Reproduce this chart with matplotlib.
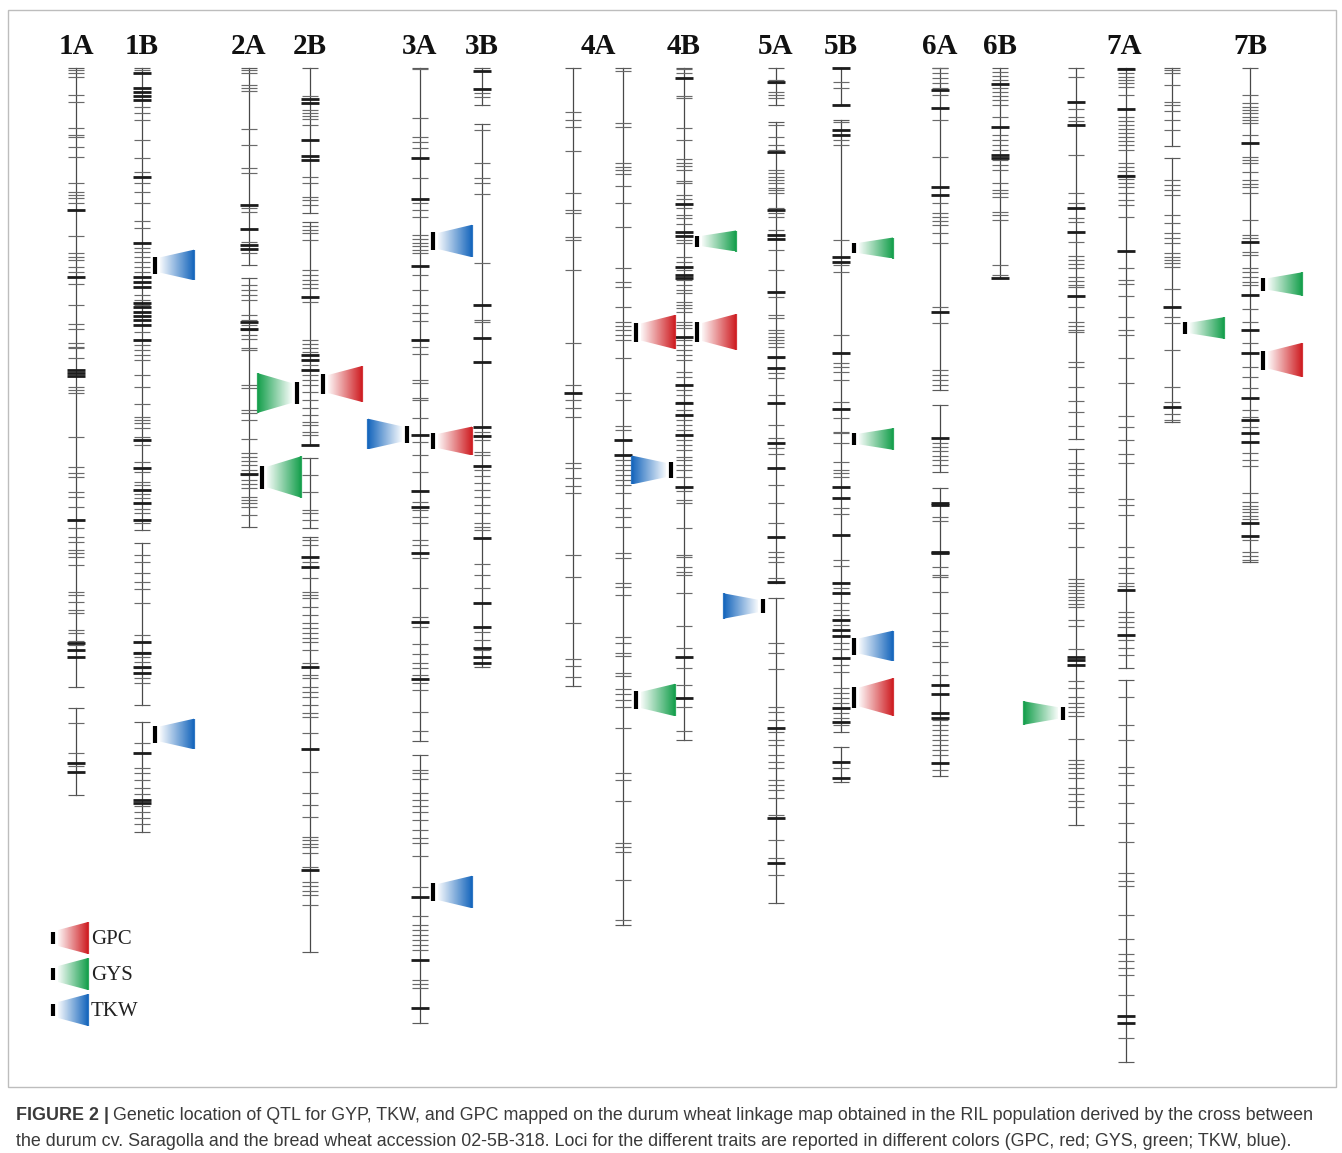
import matplotlib
matplotlib.use("Agg")
import matplotlib.pyplot as plt
import numpy as np
from matplotlib.colors import LinearSegmentedColormap
from matplotlib.patches import Polygon, Rectangle

# ---- linkage map: marker positions along each group (map units from the top)
markers_1A = [2, 5, 9, 27, 34, 60, 67, 69, 79, 89, 115, 124, 127, 130, 135, 168, 185, 189, 192, 199, 204,
              216, 237, 256, 261, 275, 279, 280, 290, 319, 322, 325, 369, 399, 405, 409, 424, 429, 439, 460,
              469, 474, 482, 485, 489, 497, 524, 527, 534, 542, 545, 562, 565, 573, 577, 582, 589, 655, 685, 695, 698]
bold_1A = [142, 209, 302, 305, 308, 452, 575, 582, 589, 695, 704]
segments_1A = [(0, 619), (640, 727)]

markers_1B = [2, 39, 45, 52, 72, 90, 104, 109, 115, 124, 135, 153, 160, 180, 184, 189, 194, 199, 204, 214, 227,
              232, 237, 264, 272, 277, 282, 287, 292, 307, 319, 336, 349, 352, 355, 360, 369, 372, 377, 394, 400,
              404, 414, 417, 422, 426, 430, 435, 441, 445, 452, 455, 487, 494, 505, 514, 521, 535, 567, 574, 584,
              589, 594, 600, 605, 610, 615, 675, 685, 700, 705, 712, 720, 726, 738, 744, 750, 756]
bold_1B = [5, 20, 24, 28, 32, 109, 175, 209, 214, 219, 235, 239, 244, 248, 252, 257, 272, 372, 400, 422, 435,
           452, 574, 585, 599, 605, 685, 732, 735]
segments_1B = [(0, 462), (475, 637), (654, 764)]

markers_2A = [2, 5, 17, 20, 23, 61, 77, 100, 105, 140, 144, 174, 185, 217, 222, 227, 232, 247, 252, 257, 262,
              267, 271, 280, 282, 317, 320, 342, 345, 352, 371, 385, 389, 393, 397, 402, 407, 412, 416, 420, 429,
              432, 435, 439, 447]
bold_2A = [137, 161, 177, 181, 254, 261, 406]
segments_2A = [(0, 197), (210, 459)]

markers_2B = [28, 42, 45, 48, 51, 57, 109, 115, 129, 132, 137, 158, 162, 165, 172, 202, 207, 212, 216, 220, 234,
              272, 276, 280, 284, 297, 307, 312, 317, 324, 332, 340, 347, 354, 357, 364, 367, 407, 424, 442, 445,
              452, 472, 477, 494, 510, 524, 527, 530, 539, 547, 555, 560, 565, 570, 574, 582, 595, 607, 610, 619,
              624, 629, 637, 645, 649, 665, 704, 725, 737, 749, 769, 772, 776, 779, 785, 799, 814, 818, 823, 827, 837]
bold_2B = [31, 35, 72, 88, 92, 229, 287, 292, 302, 377, 489, 499, 599, 681, 802]
segments_2B = [(0, 145), (154, 377), (390, 460), (469, 884)]

markers_3A = [1, 50, 69, 74, 80, 110, 135, 142, 149, 167, 171, 175, 178, 182, 185, 207, 222, 237, 245, 253, 279,
              286, 312, 315, 330, 332, 350, 374, 387, 404, 434, 442, 449, 455, 472, 477, 490, 520, 549, 554, 559,
              576, 586, 595, 600, 607, 615, 622, 644, 663, 702, 705, 711, 725, 732, 738, 744, 752, 762, 770, 775,
              788, 819, 848, 857, 862, 867, 872, 877, 882, 912, 916, 920]
bold_3A = [90, 131, 198, 272, 367, 423, 439, 485, 554, 611, 829, 892, 940]
segments_3A = [(0, 673), (687, 955)]

markers_3B = [25, 29, 62, 95, 110, 115, 126, 195, 252, 254, 364, 372, 384, 387, 402, 408, 415, 422, 429, 437,
              445, 455, 459, 462, 496, 507, 520, 564, 572, 582]
bold_3B = [3, 21, 237, 270, 294, 359, 368, 398, 470, 535, 559, 580, 589, 595]
segments_3B = [(0, 37), (56, 599)]

markers_4A1 = [44, 52, 59, 83, 125, 142, 145, 169, 172, 202, 275, 317, 332, 340, 349, 395, 400, 410, 418, 425,
               487, 509, 555, 591, 598, 609]
bold_4A1 = [325]
segments_4A1 = [(0, 618)]

markers_4A2 = [3, 55, 59, 95, 99, 102, 106, 118, 135, 159, 200, 214, 219, 239, 254, 258, 262, 267, 272, 290, 325,
               332, 358, 362, 392, 397, 402, 407, 412, 417, 425, 440, 449, 459, 485, 490, 515, 519, 527, 569, 575,
               585, 588, 605, 608, 621, 626, 632, 639, 660, 705, 712, 733, 775, 779, 784, 812, 852]
bold_4A2 = [372, 387]
segments_4A2 = [(0, 857)]

markers_4B = [1, 5, 28, 30, 60, 72, 91, 95, 98, 102, 113, 115, 127, 131, 140, 147, 150, 156, 172, 175, 189, 194,
              202, 212, 217, 222, 225, 234, 237, 240, 244, 254, 257, 260, 272, 277, 282, 287, 292, 304, 309, 317,
              322, 327, 334, 342, 347, 352, 357, 362, 372, 377, 382, 389, 392, 397, 402, 409, 423, 432, 435, 460,
              487, 489, 499, 504, 507, 525, 558, 580, 600, 617, 639, 663]
bold_4B = [10, 136, 164, 168, 199, 207, 210, 269, 317, 335, 347, 367, 419, 589, 630]
segments_4B = [(0, 672)]

markers_5A = [12, 15, 24, 27, 30, 57, 69, 77, 82, 102, 105, 109, 112, 115, 120, 122, 125, 140, 145, 149, 162, 182,
              202, 229, 247, 250, 262, 265, 269, 272, 275, 279, 290, 305, 310, 327, 357, 370, 380, 386, 417, 435,
              455, 484, 489, 494, 510, 575, 585, 601, 639, 644, 652, 664, 672, 677, 687, 694, 700, 712, 717, 722,
              730, 747, 772, 790, 807]
bold_5A = [14, 84, 142, 167, 171, 224, 289, 300, 335, 375, 400, 469, 514, 660, 750, 795]
segments_5A = [(0, 37), (54, 515), (530, 835)]

markers_5B = [14, 20, 54, 72, 77, 172, 197, 204, 267, 295, 299, 304, 312, 334, 350, 364, 365, 375, 394, 402, 405,
              409, 440, 446, 492, 498, 520, 535, 542, 547, 557, 575, 581, 597, 604, 620, 625, 630, 635, 645, 650,
              657, 700]
bold_5B = [0, 37, 62, 67, 189, 194, 285, 341, 419, 430, 467, 515, 525, 552, 562, 568, 590, 640, 654, 694, 710]
segments_5B = [(0, 37), (52, 664), (679, 714)]

markers_6A = [0, 5, 10, 15, 20, 27, 52, 89, 135, 145, 149, 153, 157, 165, 175, 239, 255, 302, 307, 312, 317, 375,
              379, 383, 388, 392, 397, 449, 453, 499, 507, 509, 524, 545, 563, 574, 578, 594, 607, 652, 657, 662,
              667, 672, 677, 682, 687, 702]
bold_6A = [22, 40, 119, 127, 244, 370, 435, 437, 484, 485, 617, 626, 645, 650, 695]
segments_6A = [(0, 322), (337, 404), (420, 708)]

markers_6B = [4, 8, 12, 20, 24, 28, 32, 37, 49, 67, 72, 77, 82, 92, 97, 102, 115, 122, 125, 129, 144, 147, 152,
              197, 207]
bold_6B = [16, 59, 87, 90, 210]
segments_6B = [(0, 210)]

markers_7A1 = [9, 41, 49, 53, 87, 125, 135, 150, 154, 174, 188, 192, 196, 200, 209, 213, 217, 219, 239, 254, 258,
               262, 264, 294, 299, 319, 333, 344, 358, 395, 401, 407, 420, 424, 439, 455, 460, 479, 511, 515, 518,
               522, 525, 529, 532, 536, 539, 552, 558, 581, 613, 620, 629, 635, 639, 644, 648, 671, 692, 696, 700,
               705, 710, 720, 726, 733, 739]
bold_7A1 = [34, 57, 140, 164, 228, 589, 592, 597]
segments_7A1 = [(0, 371), (381, 757)]

markers_7A2 = [5, 9, 12, 15, 19, 27, 49, 53, 57, 61, 65, 69, 73, 77, 82, 95, 99, 103, 107, 111, 115, 119, 125, 132,
               137, 149, 200, 212, 216, 228, 249, 262, 267, 290, 315, 348, 359, 372, 386, 395, 431, 437, 447, 479,
               489, 500, 505, 515, 518, 544, 549, 554, 559, 572, 580, 587, 629, 657, 672, 699, 705, 717, 735, 755,
               774, 805, 813, 818, 847, 871, 886, 893, 900, 907, 927, 970]
bold_7A2 = [1, 41, 108, 183, 522, 567, 948, 955]
segments_7A2 = [(0, 600), (612, 994)]

markers_7A3 = [2, 5, 17, 34, 37, 43, 52, 62, 112, 117, 122, 127, 147, 155, 165, 170, 175, 185, 189, 192, 195, 199,
               221, 249, 255, 282, 319, 334, 346, 352]
bold_7A3 = [239, 339]
segments_7A3 = [(0, 78), (90, 354)]

markers_7B = [27, 35, 39, 42, 45, 49, 52, 55, 67, 89, 92, 95, 104, 112, 116, 119, 125, 152, 167, 170, 184, 187,
              200, 204, 209, 214, 217, 241, 254, 275, 299, 309, 320, 342, 349, 359, 385, 392, 398, 425, 434, 438,
              441, 444, 448, 451, 472, 484, 488, 492]
bold_7B = [75, 174, 227, 262, 285, 330, 352, 365, 374, 455, 468]
segments_7B = [(0, 494)]

# chromosome labels and the linkage groups drawn under each
chromosomes = ["1A", "1B", "2A", "2B", "3A", "3B", "4A", "4B", "5A", "5B", "6A", "6B", "7A", "7B"]
chromosome_groups = [["1A"], ["1B"], ["2A"], ["2B"], ["3A"], ["3B"], ["4A.1", "4A.2"], ["4B"], ["5A"], ["5B"],
                     ["6A"], ["6B"], ["7A.1", "7A.2", "7A.3"], ["7B"]]

# ---- QTL: linkage group, peak position, confidence interval, trait, side of the bar
qtl_group = ["1B", "1B", "2A", "2B", "2B", "3A", "3A", "3A", "3A", "4A.2", "4A.2", "4B", "4B", "4B",
             "5A", "5B", "5B", "5B", "5B", "7A.1", "7A.3", "7B", "7B"]
qtl_pos = [197, 666, 409, 325, 316, 173, 366, 373, 824, 264, 632, 264, 173, 402,
           538, 180, 371, 578, 629, 645, 260, 216, 292]
qtl_ci = [17, 17, 23, 22, 20, 18, 17, 16, 18, 19, 18, 20, 11, 16,
          14, 10, 12, 17, 21, 13, 12, 13, 19]
qtl_trait = ["TKW", "TKW", "GYS", "GYS", "GPC", "TKW", "TKW", "GPC", "TKW", "GPC", "GYS", "GPC", "GYS", "TKW",
             "TKW", "GYS", "GYS", "TKW", "GPC", "GYS", "GYS", "GYS", "GPC"]
qtl_side = ["right", "right", "right", "left", "right", "right", "left", "right", "right", "right", "right",
            "right", "right", "left", "left", "right", "right", "right", "right", "left", "right", "right", "right"]

traits = ["GPC", "GYS", "TKW"]
trait_colors = {"GPC": "#cf1f24", "GYS": "#17a04e", "TKW": "#1767bd"}

CAPTION_1 = ("Genetic location of QTL for GYP, TKW, and GPC mapped on the durum wheat linkage map obtained "
             "in the RIL population derived by the cross between")
CAPTION_2 = ("the durum cv. Saragolla and the bread wheat accession 02-5B-318. Loci for the different traits "
             "are reported in different colors (GPC, red; GYS, green; TKW, blue).")

# horizontal placement of the linkage groups
group_x = {"1A": 76, "1B": 142, "2A": 249, "2B": 310, "3A": 420, "3B": 482, "4A.1": 573, "4A.2": 623,
           "4B": 684, "5A": 776, "5B": 841, "6A": 940, "6B": 1000, "7A.1": 1076, "7A.2": 1126,
           "7A.3": 1172, "7B": 1250}

group_data = {
    "1A": (markers_1A, bold_1A, segments_1A), "1B": (markers_1B, bold_1B, segments_1B),
    "2A": (markers_2A, bold_2A, segments_2A), "2B": (markers_2B, bold_2B, segments_2B),
    "3A": (markers_3A, bold_3A, segments_3A), "3B": (markers_3B, bold_3B, segments_3B),
    "4A.1": (markers_4A1, bold_4A1, segments_4A1), "4A.2": (markers_4A2, bold_4A2, segments_4A2),
    "4B": (markers_4B, bold_4B, segments_4B), "5A": (markers_5A, bold_5A, segments_5A),
    "5B": (markers_5B, bold_5B, segments_5B), "6A": (markers_6A, bold_6A, segments_6A),
    "6B": (markers_6B, bold_6B, segments_6B), "7A.1": (markers_7A1, bold_7A1, segments_7A1),
    "7A.2": (markers_7A2, bold_7A2, segments_7A2), "7A.3": (markers_7A3, bold_7A3, segments_7A3),
    "7B": (markers_7B, bold_7B, segments_7B),
}

TICK_HALF = 8
MAP_TOP = 68


def draw_qtl(ax, x_bar, y, ci, color, direction, wide=None, length=34):
    """Black interval bar plus a white-to-colour trapezoid opening away from the bar."""
    if wide is None:
        wide = max(21, 1.8 * ci)
    narrow = wide * 0.5
    x0 = x_bar + direction * 5
    x1 = x0 + direction * length
    pts = [(x0, y - narrow / 2), (x1, y - wide / 2), (x1, y + wide / 2), (x0, y + narrow / 2)]
    poly = Polygon(pts, closed=True, facecolor="none", edgecolor="none", zorder=3)
    ax.add_patch(poly)
    grad = np.linspace(0.04, 1, 128)[None, :]
    if direction < 0:
        grad = grad[:, ::-1]
    cmap = LinearSegmentedColormap.from_list("q", ["#ffffff", color])
    im = ax.imshow(grad, extent=[min(x0, x1), max(x0, x1), y + wide / 2, y - wide / 2],
                   cmap=cmap, vmin=0, vmax=1, aspect="auto", interpolation="bilinear", zorder=3)
    im.set_clip_path(poly)
    # darker rim on the wide end
    ax.plot([x1, x1], [y - wide / 2, y + wide / 2], color=color, lw=1.6, zorder=4,
            solid_capstyle="butt", alpha=0.9)
    ax.plot([x_bar, x_bar], [y - ci / 2, y + ci / 2], color="black", lw=3.0,
            solid_capstyle="butt", zorder=4)


fig = plt.figure(figsize=(13.42, 11.53), dpi=100)
ax = fig.add_axes([0, 0, 1, 1])

for name, (thin, bold, segs) in group_data.items():
    x = group_x[name]
    for top, bottom in segs:
        ax.plot([x, x], [top, bottom], color="#484848", lw=0.9, zorder=1)
        ax.hlines([top, bottom], x - TICK_HALF, x + TICK_HALF, color="#5a5a5a", lw=0.85, zorder=1)
    ax.hlines(thin, x - TICK_HALF, x + TICK_HALF, color="#6a6a6a", lw=0.85, zorder=2)
    ax.hlines(bold, x - TICK_HALF - 1, x + TICK_HALF + 1, color="#1c1c1c", lw=2.0, zorder=2)

for chrom, grp in zip(chromosomes, chromosome_groups):
    xs = np.mean([group_x[g] for g in grp])
    ax.text(xs, 46 - MAP_TOP, chrom, ha="center", va="center", fontsize=21, fontweight="bold",
            family="Liberation Serif", color="#111111")

for g, pos, ci, trait, side in zip(qtl_group, qtl_pos, qtl_ci, qtl_trait, qtl_side):
    d = 1 if side == "right" else -1
    draw_qtl(ax, group_x[g] + d * 13, pos, ci, trait_colors[trait], d)

# legend
for i, trait in enumerate(traits):
    ly = 938 - MAP_TOP + i * 36
    draw_qtl(ax, 53, ly, 12, trait_colors[trait], 1, wide=32, length=30)
    ax.text(91, ly + 2, trait, ha="left", va="center", fontsize=15, family="Liberation Serif",
            color="#222222")

# frame around the figure panel
ax.add_patch(Rectangle((8, 10 - MAP_TOP), 1328, 1077, fill=False, edgecolor="#bdbdbd", lw=1.0, zorder=0))

# caption
cap_color = "#3a3a3a"
cap_size = 12.85
fig.canvas.draw()
renderer = fig.canvas.get_renderer()
t = ax.text(16, 1120 - MAP_TOP, "FIGURE 2 |", ha="left", va="baseline", fontsize=cap_size,
            fontweight="bold", family="Liberation Sans", color=cap_color)
w = t.get_window_extent(renderer).width
ax.text(16 + w + 4, 1120 - MAP_TOP, CAPTION_1, ha="left", va="baseline", fontsize=cap_size,
        family="Liberation Sans", color=cap_color)
ax.text(16, 1146 - MAP_TOP, CAPTION_2, ha="left", va="baseline", fontsize=cap_size,
        family="Liberation Sans", color=cap_color)

ax.set_xlim(0, 1342)
ax.set_ylim(1153 - MAP_TOP, -MAP_TOP)
ax.axis("off")

fig.savefig("out.png", dpi=100)
